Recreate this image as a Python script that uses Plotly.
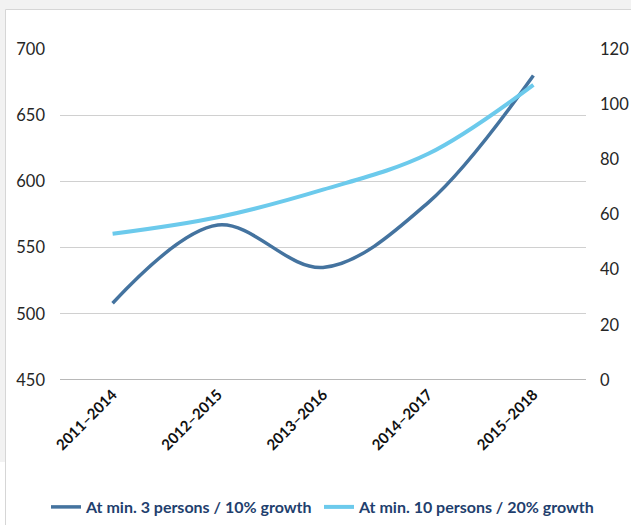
import plotly.graph_objects as go

categories = ["2011–2014", "2012–2015", "2013–2016", "2014–2017", "2015–2018"]
series_a_name = "At min. 3 persons / 10% growth"
series_a = [508, 567, 535, 584, 680]
series_b_name = "At min. 10 persons / 20% growth"
series_b = [53, 59, 69, 82, 107]

left_ticks = [450, 500, 550, 600, 650, 700]
right_ticks = [0, 20, 40, 60, 80, 100, 120]

W, H = 631, 525
ML, MR, MT, MB = 60, 45, 49, 145
PW, PH = W - ML - MR, H - MT - MB

def px_x(p):
    return (p - ML) / PW

def px_y(p):
    return (H - MB - p) / PH

fig = go.Figure()
fig.add_trace(go.Scatter(
    x=categories, y=series_a, name=series_a_name, mode="lines",
    line=dict(color="#44739f", width=3.5, shape="spline", smoothing=1.0),
    yaxis="y", legend="legend",
))
fig.add_trace(go.Scatter(
    x=categories, y=series_b, name=series_b_name, mode="lines",
    line=dict(color="#6ccaec", width=4, shape="spline", smoothing=1.0),
    yaxis="y2", legend="legend2",
))

tickfont = dict(family="Lato, Open Sans, sans-serif", size=16.5, color="#262626")
legfont = dict(family="Lato, Open Sans, sans-serif", size=16, color="#1f3f6e", weight="bold")

fig.update_layout(
    width=W, height=H,
    margin=dict(l=ML, r=MR, t=MT, b=MB, autoexpand=False),
    paper_bgcolor="#f2f2f2",
    plot_bgcolor="rgba(0,0,0,0)",
    showlegend=True,
    legend=dict(
        orientation="h", xref="container", yref="container",
        x=46 / W, xanchor="left", y=(H - 507) / H, yanchor="middle",
        font=legfont, bgcolor="rgba(0,0,0,0)", itemwidth=30,
    ),
    legend2=dict(
        orientation="h", xref="container", yref="container",
        x=319 / W, xanchor="left", y=(H - 507) / H, yanchor="middle",
        font=legfont, bgcolor="rgba(0,0,0,0)", itemwidth=30,
    ),
    xaxis=dict(
        type="category", tickangle=-45,
        tickfont=dict(family="Lato, Open Sans, sans-serif", size=15, color="#111111", weight="bold"),
        showgrid=False, showline=False, ticks="", zeroline=False,
        range=[-0.5, 4.5], ticklabelstandoff=2,
    ),
    yaxis=dict(
        range=[450, 700], tickvals=left_ticks, tickfont=tickfont,
        showgrid=True, gridcolor="#d0d0d0", gridwidth=1.3,
        zeroline=False, showline=False, ticks="", ticklabelstandoff=14,
    ),
    yaxis2=dict(
        range=[0, 120], tickvals=right_ticks, tickfont=tickfont,
        overlaying="y", side="right", showgrid=False,
        zeroline=False, showline=False, ticks="", ticklabelstandoff=13,
    ),
    shapes=[
        dict(type="rect", xref="paper", yref="paper", layer="below",
             x0=px_x(5.5), x1=px_x(650), y0=px_y(540), y1=px_y(9.5),
             fillcolor="white", line=dict(color="#d6d6d6", width=1)),
        dict(type="rect", xref="paper", yref="paper", layer="below",
             x0=px_x(-5), x1=px_x(5), y0=px_y(540), y1=px_y(462),
             fillcolor="white", line=dict(width=0)),
        dict(type="line", xref="paper", yref="y", layer="below",
             x0=0, x1=1, y0=450, y1=450, line=dict(color="#a0a0a0", width=1.3)),
    ],
)

fig.write_html(
    "out.html",
    config={"displayModeBar": False},
    post_script="document.body.style.margin='0';document.body.style.overflow='hidden';",
)
